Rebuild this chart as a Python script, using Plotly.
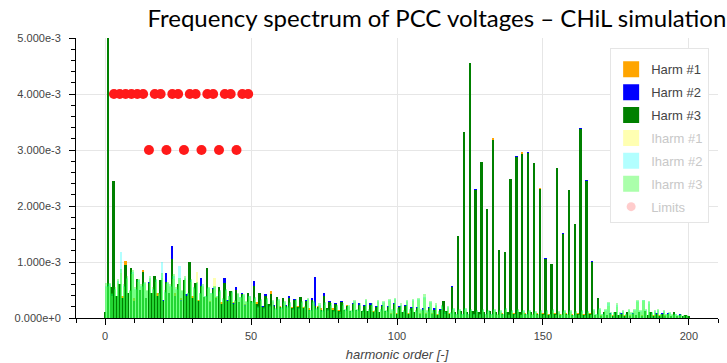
import plotly.graph_objects as go

# ---------------- data (values in units of 1e-5) ----------------
harm_orders = list(range(0, 201))
iharm_orders = [n + 0.5 for n in range(0, 200)]

harm1 = [8, 498, 50, 240, 35, 55, 40, 101, 38, 85,
         35, 65, 42, 86, 32, 55, 38, 70, 44, 60,
         28, 58, 40, 110, 45, 52, 35, 60, 38, 95,
         40, 55, 32, 60, 30, 88, 30, 48, 38, 45,
         28, 58, 28, 42, 28, 48, 25, 42, 25, 38,
         28, 55, 28, 42, 22, 36, 22, 48, 20, 35,
         22, 32, 20, 35, 20, 30, 22, 35, 20, 28,
         17, 30, 20, 22, 17, 38, 16, 26, 17, 22,
         14, 26, 14, 24, 13, 22, 15, 22, 13, 20,
         13, 22, 12, 18, 11, 20, 13, 18, 9, 22,
         9, 18, 11, 20, 9, 16, 11, 16, 9, 14,
         9, 16, 9, 14, 7, 12, 27, 13, 9, 52,
         11, 145, 13, 333, 11, 452, 13, 225, 11, 276,
         11, 192, 13, 321, 11, 120, 9, 116, 11, 247,
         9, 285, 11, 297, 9, 292, 11, 274, 9, 233,
         9, 104, 7, 94, 9, 265, 7, 148, 9, 226,
         7, 166, 9, 335, 7, 243, 9, 98, 6, 35,
         5, 9, 6, 7, 5, 9, 6, 7, 5, 9,
         5, 7, 6, 9, 5, 11, 6, 9, 5, 7,
         5, 7, 5, 7, 4, 9, 4, 5, 4, 4,
         4]

harm2 = [9, 499, 52, 242, 38, 58, 32, 92, 42, 88,
         28, 68, 48, 80, 34, 64, 42, 72, 38, 66,
         32, 80, 42, 129, 38, 58, 32, 64, 42, 98,
         33, 60, 28, 72, 36, 90, 26, 54, 33, 50,
         24, 72, 32, 44, 26, 56, 26, 44, 24, 42,
         28, 66, 24, 40, 22, 42, 24, 40, 24, 36,
         18, 36, 24, 39, 16, 34, 18, 36, 16, 32,
         14, 35, 74, 18, 14, 45, 17, 30, 14, 27,
         11, 30, 14, 20, 11, 27, 13, 26, 11, 24,
         11, 26, 9, 22, 9, 24, 11, 22, 7, 27,
         7, 22, 9, 24, 7, 20, 9, 20, 7, 17,
         7, 20, 7, 17, 5, 16, 28, 11, 7, 57,
         9, 146, 11, 330, 9, 455, 11, 230, 9, 278,
         9, 193, 11, 316, 9, 121, 7, 118, 9, 248,
         7, 290, 9, 292, 7, 297, 9, 276, 7, 229,
         7, 107, 5, 97, 7, 266, 5, 152, 7, 228,
         5, 167, 7, 340, 5, 247, 7, 102, 4, 34,
         3, 11, 4, 9, 3, 11, 4, 9, 3, 11,
         3, 9, 4, 11, 3, 13, 4, 11, 3, 9,
         3, 9, 3, 9, 2, 11, 2, 7, 2, 6,
         2]

harm3 = [10, 500, 55, 245, 40, 60, 35, 95, 45, 90,
         30, 70, 50, 83, 35, 62, 45, 75, 40, 68,
         30, 65, 45, 105, 40, 60, 30, 68, 40, 100,
         35, 62, 30, 58, 38, 90, 28, 52, 35, 55,
         25, 62, 30, 48, 25, 50, 28, 42, 22, 45,
         30, 58, 25, 45, 20, 40, 25, 42, 22, 38,
         20, 35, 22, 36, 18, 32, 20, 38, 18, 30,
         15, 33, 22, 20, 15, 40, 18, 28, 15, 25,
         12, 28, 15, 22, 12, 25, 14, 24, 12, 22,
         12, 24, 10, 20, 10, 22, 12, 20, 8, 25,
         8, 20, 10, 22, 8, 18, 10, 18, 8, 15,
         8, 18, 8, 15, 6, 14, 30, 12, 8, 55,
         10, 147, 12, 332, 10, 456, 12, 228, 10, 279,
         10, 194, 12, 318, 10, 122, 8, 117, 10, 249,
         8, 288, 10, 293, 8, 295, 10, 277, 8, 230,
         8, 106, 6, 96, 8, 267, 6, 150, 8, 229,
         6, 168, 8, 338, 6, 245, 8, 100, 5, 36,
         4, 10, 5, 8, 4, 10, 5, 8, 4, 10,
         4, 8, 5, 10, 4, 12, 5, 10, 4, 8,
         4, 8, 4, 8, 3, 10, 3, 6, 3, 5,
         3]

iharm1 = [55, 58, 40, 50, 62, 80, 55, 70, 48, 78,
          50, 65, 55, 60, 48, 70, 50, 65, 42, 72,
          45, 60, 55, 70, 50, 68, 48, 70, 42, 65,
          52, 83, 42, 55, 38, 52, 42, 72, 38, 46,
          32, 48, 38, 45, 30, 42, 35, 40, 28, 38,
          26, 34, 18, 30, 16, 32, 20, 28, 15, 30,
          16, 26, 18, 24, 14, 30, 16, 26, 18, 32,
          12, 26, 14, 22, 10, 24, 12, 22, 10, 20,
          8, 22, 12, 20, 10, 28, 12, 22, 10, 30,
          12, 22, 10, 28, 12, 26, 10, 30, 12, 32,
          14, 22, 10, 28, 12, 30, 10, 32, 12, 36,
          10, 26, 10, 22, 8, 20, 8, 18, 8, 14,
          6, 12, 6, 14, 6, 12, 6, 10, 6, 12,
          6, 10, 6, 12, 5, 10, 6, 14, 5, 10,
          6, 12, 5, 10, 6, 10, 5, 9, 5, 10,
          5, 10, 6, 12, 5, 9, 5, 10, 5, 10,
          4, 9, 5, 10, 4, 9, 5, 12, 6, 14,
          6, 12, 22, 8, 8, 20, 8, 10, 6, 12,
          8, 12, 28, 10, 30, 12, 25, 8, 10, 12,
          6, 10, 6, 8, 5, 6, 4, 5, 3, 3]

iharm2 = [58, 60, 42, 52, 66, 118, 57, 72, 49, 82,
          52, 67, 57, 62, 49, 72, 52, 67, 44, 100,
          47, 62, 57, 75, 52, 92, 49, 72, 44, 67,
          53, 62, 44, 57, 39, 53, 44, 56, 39, 48,
          34, 50, 39, 46, 31, 43, 37, 41, 29, 39,
          28, 36, 20, 32, 18, 34, 22, 30, 16, 32,
          18, 28, 20, 26, 16, 32, 18, 28, 20, 34,
          14, 28, 16, 24, 12, 26, 14, 24, 12, 22,
          10, 24, 14, 22, 12, 30, 14, 24, 12, 32,
          14, 24, 12, 30, 14, 28, 12, 32, 14, 34,
          16, 24, 12, 30, 14, 32, 12, 34, 14, 38,
          12, 28, 12, 24, 10, 22, 10, 20, 9, 16,
          7, 14, 7, 16, 7, 14, 7, 12, 7, 14,
          7, 12, 7, 14, 6, 12, 7, 16, 6, 12,
          7, 14, 6, 12, 7, 12, 6, 10, 6, 12,
          6, 12, 7, 14, 6, 10, 6, 12, 6, 12,
          5, 10, 6, 12, 5, 10, 6, 14, 7, 16,
          7, 14, 26, 9, 9, 24, 9, 12, 7, 14,
          9, 14, 31, 12, 32, 14, 28, 9, 12, 14,
          7, 12, 7, 9, 6, 7, 5, 6, 4, 4]

iharm3 = [63, 63, 45, 55, 70, 88, 60, 75, 50, 85,
          55, 70, 60, 65, 50, 75, 55, 70, 45, 80,
          50, 65, 60, 78, 55, 72, 50, 75, 45, 70,
          55, 65, 45, 60, 40, 55, 45, 58, 40, 50,
          35, 52, 40, 48, 32, 45, 38, 42, 30, 40,
          30, 38, 22, 34, 20, 36, 24, 32, 18, 34,
          20, 30, 22, 28, 18, 34, 20, 30, 22, 36,
          15, 30, 18, 26, 14, 28, 16, 26, 14, 24,
          12, 26, 16, 24, 14, 32, 16, 26, 14, 34,
          16, 26, 14, 32, 16, 30, 14, 34, 16, 36,
          18, 26, 14, 32, 16, 34, 14, 36, 16, 42,
          14, 30, 14, 26, 12, 24, 12, 22, 10, 18,
          8, 16, 8, 18, 8, 16, 8, 14, 8, 16,
          8, 14, 8, 16, 7, 14, 8, 18, 7, 14,
          8, 16, 7, 14, 8, 14, 7, 12, 7, 14,
          7, 14, 8, 16, 7, 12, 7, 14, 7, 14,
          6, 12, 7, 14, 6, 12, 7, 16, 8, 18,
          8, 16, 28, 10, 10, 27, 10, 14, 8, 16,
          10, 16, 33, 14, 33, 16, 30, 10, 14, 16,
          8, 14, 8, 10, 7, 8, 6, 7, 5, 5]

limit_orders = [3, 5, 7, 9, 11, 13, 17, 19, 23, 25, 29, 31, 35, 37, 41, 43, 47, 49,
                15, 21, 27, 33, 39, 45]
limit_values = [400] * 18 + [300] * 6

SCALE = 1e-5
x_ticks = [0, 50, 100, 150, 200]
y_ticks = [0.0, 0.001, 0.002, 0.003, 0.004, 0.005]
y_tick_labels = ["0.000e+0", "1.000e-3", "2.000e-3", "3.000e-3", "4.000e-3", "5.000e-3"]

# ---------------- figure ----------------
fig = go.Figure()

def sc(v):
    return [a * SCALE for a in v]

muted = "#c8c8c8"
series = [
    ("Harm #1", harm_orders, harm1, "#FFA500", 1.0, False),
    ("Harm #2", harm_orders, harm2, "#0000FF", 1.0, False),
    ("Harm #3", harm_orders, harm3, "#008000", 1.0, False),
    ("Iharm #1", iharm_orders, iharm1, "#FFFF00", 0.3, True),
    ("Iharm #2", iharm_orders, iharm2, "#00FFFF", 0.3, True),
    ("Iharm #3", iharm_orders, iharm3, "#00FF00", 0.33, True),
]
for name, xs, ys, col, op, _ in series:
    fig.add_trace(go.Bar(
        x=xs, y=sc(ys), name=name, width=0.65, showlegend=False,
        marker=dict(color=col, line=dict(width=0)), opacity=op,
        hoverinfo="skip"))

fig.add_trace(go.Scatter(
    x=limit_orders, y=sc(limit_values), mode="markers", showlegend=False,
    marker=dict(color="#FF1a1a", size=10, line=dict(width=0)),
    hoverinfo="skip"))

# legend-only entries (bokeh-style large swatches, muted items greyed)
for i, (name, _, _, col, op, is_muted) in enumerate(series):
    label = f"<span style='color:{muted}'>{name}</span>" if is_muted else name
    fig.add_trace(go.Scatter(
        x=[None], y=[None], mode="markers", name=label, legendgroup=f"g{i}",
        marker=dict(symbol="square", size=16, color=col, opacity=op, line=dict(width=0))))
fig.add_trace(go.Scatter(
    x=[None], y=[None], mode="markers",
    name=f"<span style='color:{muted}'>Limits</span>", legendgroup="g7",
    marker=dict(color="rgba(255,0,0,0.2)", size=9, line=dict(width=0))))

axis_font = dict(family="Liberation Sans, Arial, sans-serif", size=11, color="#444")

fig.update_layout(
    width=727, height=363,
    margin=dict(l=76, r=9, t=38, b=45, autoexpand=False),
    barmode="overlay", bargap=0,
    plot_bgcolor="white", paper_bgcolor="white",
    showlegend=True,
    title=dict(text="Frequency spectrum of PCC voltages – CHiL simulation",
               font=dict(family="Lato, sans-serif", size=24, color="black"),
               xref="container", yref="container", x=0.601, y=0.95,
               xanchor="center", yanchor="middle", automargin=False),
    legend=dict(x=0.832, y=0.964, xanchor="left", yanchor="top",
                bgcolor="white", bordercolor="#e5e5e5", borderwidth=1,
                font=dict(family="Liberation Sans, Arial, sans-serif", size=13, color="#444"),
                title=dict(text=" ", font=dict(size=4)),
                tracegroupgap=3, itemwidth=30),
    xaxis=dict(range=[-10, 210], tickvals=x_ticks, showgrid=True, gridcolor="#e6e6e6",
               zeroline=False, showline=True, linecolor="black", linewidth=1,
               ticks="outside", ticklen=6, tickcolor="black", tickfont=axis_font,
               automargin=False, ticklabelstandoff=2,
               minor=dict(dtick=10, ticks="outside", ticklen=4, tickcolor="black", showgrid=False),
               title=dict(text="<i>harmonic order [-]</i>", standoff=8,
                          font=dict(family="Liberation Sans, Arial, sans-serif", size=13, color="#444"))),
    yaxis=dict(range=[0, 0.005], tickvals=y_ticks, ticktext=y_tick_labels,
               showgrid=True, gridcolor="#e6e6e6", automargin=False,
               zeroline=False, showline=True, linecolor="black", linewidth=1,
               ticks="outside", ticklen=6, tickcolor="black", tickfont=axis_font,
               ticklabelstandoff=6,
               minor=dict(dtick=0.0002, ticks="outside", ticklen=4, tickcolor="black", showgrid=False)),
)

fig.write_html("out.html", config={"displayModeBar": False},
               post_script="document.body.style.margin='0';")
